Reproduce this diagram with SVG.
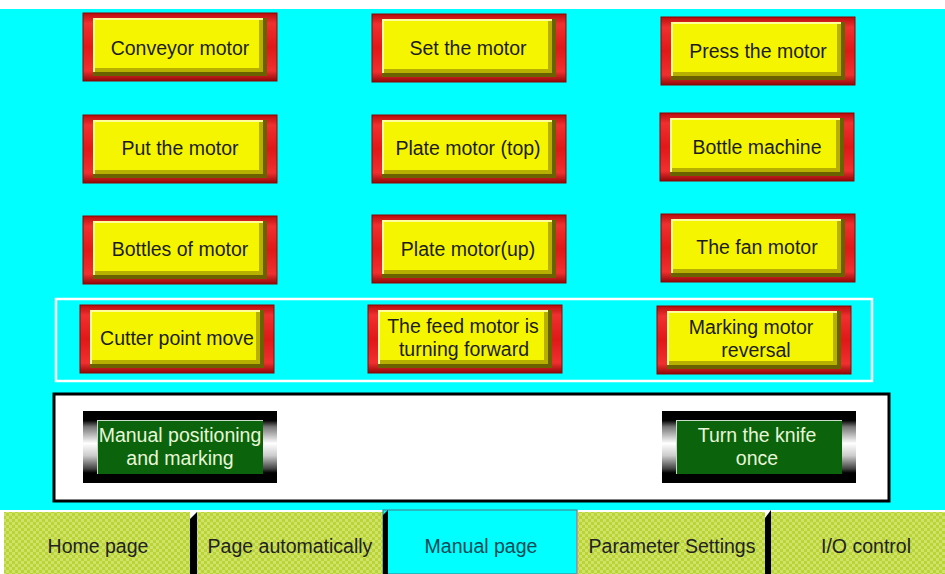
<svg xmlns="http://www.w3.org/2000/svg" width="945" height="574" viewBox="0 0 945 574">
<defs>
<linearGradient id="redG" x1="0" y1="0" x2="0" y2="1">
<stop offset="0" stop-color="#b80c0c"/><stop offset="0.15" stop-color="#f03030"/><stop offset="0.5" stop-color="#e01818"/><stop offset="0.85" stop-color="#f03030"/><stop offset="1" stop-color="#900808"/>
</linearGradient>
<linearGradient id="metal" x1="0" y1="0" x2="0" y2="1">
<stop offset="0" stop-color="#000"/><stop offset="0.13" stop-color="#000"/><stop offset="0.22" stop-color="#777"/><stop offset="0.45" stop-color="#fff"/><stop offset="0.62" stop-color="#ccc"/><stop offset="0.8" stop-color="#444"/><stop offset="0.86" stop-color="#000"/><stop offset="1" stop-color="#000"/>
</linearGradient>
<pattern id="chk" width="6" height="6" patternUnits="userSpaceOnUse">
<rect width="6" height="6" fill="#b9d434"/><rect width="3" height="3" fill="#cfe26a"/><rect x="3" y="3" width="3" height="3" fill="#cfe26a"/>
</pattern>
<g id="ybtn">
<rect width="194" height="68" fill="url(#redG)" stroke="#8a0606" stroke-width="1"/>
<rect x="10" y="5" width="174" height="58" fill="#6a6200"/>
<rect x="10" y="5" width="170" height="54" fill="#ffff9a"/>
<rect x="12" y="7" width="168" height="52" fill="#f5f500"/>
<rect x="176" y="7" width="4" height="52" fill="#b8b000"/>
<rect x="12" y="55" width="168" height="4" fill="#b8b000"/>
</g>
<g id="gbtn">
<rect width="194" height="72" fill="url(#metal)"/>
<rect x="14" y="9" width="166" height="54" fill="#c8dcc8"/>
<rect x="15" y="10" width="165" height="53" fill="#0b640b"/>
</g>
</defs>
<style>
.t{font-family:"Liberation Sans",Arial,sans-serif;font-size:19.5px;fill:#1c1c1c;text-anchor:middle}
.g{font-family:"Liberation Sans",Arial,sans-serif;font-size:19.5px;fill:#e8f6d8;text-anchor:middle}
.tab{font-family:"Liberation Sans",Arial,sans-serif;font-size:19.5px;fill:#222;text-anchor:middle}
</style>
<rect width="945" height="574" fill="#fff"/>
<rect x="0" y="9" width="945" height="502" fill="#00ffff"/>
<rect id="row4-frame" x="56" y="299" width="816" height="82" fill="none" stroke="#fff" stroke-width="2.5"/>
<rect id="manual-box" x="54" y="394" width="835" height="107" fill="#fff" stroke="#000" stroke-width="3"/>
<g id="connectors"/>
<g id="conveyor-motor"><use href="#ybtn" x="83" y="13"/><text class="t" x="180" y="55">Conveyor motor</text></g>
<g id="set-the-motor"><use href="#ybtn" x="372" y="14"/><text class="t" x="468" y="55">Set the motor</text></g>
<g id="press-the-motor"><use href="#ybtn" x="661" y="17"/><text class="t" x="758" y="58">Press the motor</text></g>
<g id="put-the-motor"><use href="#ybtn" x="83" y="115"/><text class="t" x="180" y="155">Put the motor</text></g>
<g id="plate-motor-top"><use href="#ybtn" x="372" y="115"/><text class="t" x="468" y="155">Plate motor (top)</text></g>
<g id="bottle-machine"><use href="#ybtn" x="660" y="113"/><text class="t" x="757" y="154">Bottle machine</text></g>
<g id="bottles-of-motor"><use href="#ybtn" x="83" y="216"/><text class="t" x="180" y="256">Bottles of motor</text></g>
<g id="plate-motor-up"><use href="#ybtn" x="372" y="215"/><text class="t" x="468" y="256">Plate motor(up)</text></g>
<g id="fan-motor"><use href="#ybtn" x="661" y="214"/><text class="t" x="757" y="254">The fan motor</text></g>
<g id="cutter-point-move"><use href="#ybtn" x="80" y="305"/><text class="t" x="177" y="345">Cutter point move</text></g>
<g id="feed-motor"><use href="#ybtn" x="368" y="305"/><text class="t" x="463" y="333">The feed motor is</text><text class="t" x="464" y="356">turning forward</text></g>
<g id="marking-motor"><use href="#ybtn" x="657" y="306"/><text class="t" x="751" y="334">Marking motor</text><text class="t" x="756" y="357">reversal</text></g>
<g id="manual-positioning"><use href="#gbtn" x="83" y="411"/><text class="g" x="180" y="442">Manual positioning</text><text class="g" x="180" y="465">and marking</text></g>
<g id="turn-knife"><use href="#gbtn" x="662" y="411"/><text class="g" x="757" y="442">Turn the knife</text><text class="g" x="757" y="465">once</text></g>
<g id="tabs">
<rect x="0" y="510" width="945" height="2" fill="#fff"/>
<g id="tab-home"><rect x="4" y="512" width="186" height="62" fill="url(#chk)"/><text class="tab" x="98" y="553">Home page</text></g>
<g id="tab-auto"><path d="M190 574 V519 L197 512 V574 Z" fill="#000"/><rect x="197" y="512" width="186" height="62" fill="url(#chk)"/><text class="tab" x="290" y="553">Page automatically</text></g>
<g id="tab-manual"><rect x="383" y="510" width="194" height="64" fill="#00ffff" stroke="#3f8c98" stroke-width="1.2"/><path d="M383 574 V515 L388 510 V574 Z" fill="#000"/><line x1="577" y1="511" x2="577" y2="574" stroke="#e08080" stroke-width="1"/><text class="tab" x="481" y="553" style="fill:#0b4a55">Manual page</text></g>
<g id="tab-param"><rect x="578" y="512" width="187" height="62" fill="url(#chk)"/><text class="tab" x="672" y="553">Parameter Settings</text></g>
<g id="tab-io"><path d="M765 574 V518 L771 510 V574 Z" fill="#000"/><rect x="771" y="512" width="174" height="62" fill="url(#chk)"/><text class="tab" x="866" y="553">I/O control</text></g>
</g>
</svg>
